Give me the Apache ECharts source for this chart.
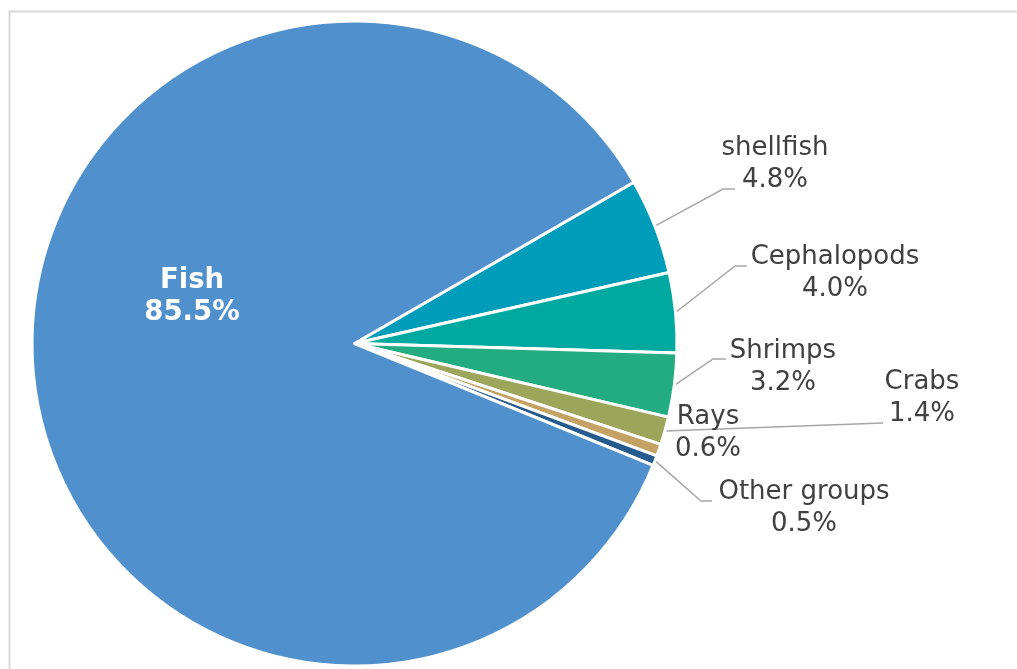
<!DOCTYPE html>
<html>
<head>
<meta charset="utf-8">
<script src="https://cdn.jsdelivr.net/npm/echarts@6/dist/echarts.min.js"></script>
<style>
html,body{margin:0;padding:0;background:#fff;}
#chart{width:1017px;height:669px;}
</style>
</head>
<body>
<div id="chart"></div>
<script>
// ---- data ----
var categories = ['shellfish', 'Cephalopods', 'Shrimps', 'Crabs', 'Rays', 'Other groups', 'Fish'];
var shares = [4.8, 4.0, 3.2, 1.4, 0.6, 0.5, 85.5];

// ---- styling / label layout (not data) ----
var colors = ['#009dba', '#00a99f', '#23ac80', '#9ba65a', '#c4a264', '#265b8e', '#4f90cd'];
// label centre and connector elbow/end points (pixels)
var labelSpots = [
  {c: [775, 164], line: [[723, 189], [735, 189]]},
  {c: [835, 273], line: [[735, 266], [747, 266]]},
  {c: [783, 367], line: [[713, 359], [726, 359]]},
  {c: [922, 398], line: [[883, 423]]},
  {c: [708, 433], line: null},
  {c: [804, 508], line: [[701, 501], [712, 501]]},
  {c: [192, 297], line: null}
];

var data = categories.map(function (name, i) {
  var item = {name: name, value: shares[i], itemStyle: {color: colors[i]}};
  if (name === 'Fish') {
    item.label = {color: '#ffffff', fontWeight: 'bold', fontSize: 27.5};
    item.labelLine = {show: false};
  }
  if (name === 'Rays') {
    item.labelLine = {show: false};
  }
  return item;
});

var chart = echarts.init(document.getElementById('chart'));
chart.setOption({
  animation: false,
  backgroundColor: '#ffffff',
  graphic: [{
    type: 'rect', left: 7, top: 9, z: -10,
    shape: {width: 1100, height: 800},
    style: {fill: 'none', stroke: '#d9d9d9', lineWidth: 2}
  }],
  series: [{
    type: 'pie',
    center: [354.5, 343.5],
    radius: 322.5,
    startAngle: 30,
    clockwise: true,
    avoidLabelOverlap: false,
    data: data,
    itemStyle: {borderColor: '#ffffff', borderWidth: 3},
    label: {
      show: true,
      position: 'outside',
      fontFamily: 'DejaVu Sans',
      fontSize: 26,
      lineHeight: 31.5,
      color: '#404040',
      align: 'center',
      formatter: function (p) { return p.name + '\n' + p.value.toFixed(1) + '%'; }
    },
    labelLine: {
      show: true, length: 10, length2: 10,
      lineStyle: {color: '#a6a6a6', width: 1.5}
    },
    labelLayout: function (params) {
      var s = labelSpots[params.dataIndex];
      var res = {x: s.c[0], y: s.c[1], align: 'center', verticalAlign: 'middle', hideOverlap: false, moveOverlap: null};
      if (s.line && params.labelLinePoints) {
        res.labelLinePoints = [params.labelLinePoints[0]].concat(s.line);
      }
      return res;
    }
  }]
});
</script>
</body>
</html>
